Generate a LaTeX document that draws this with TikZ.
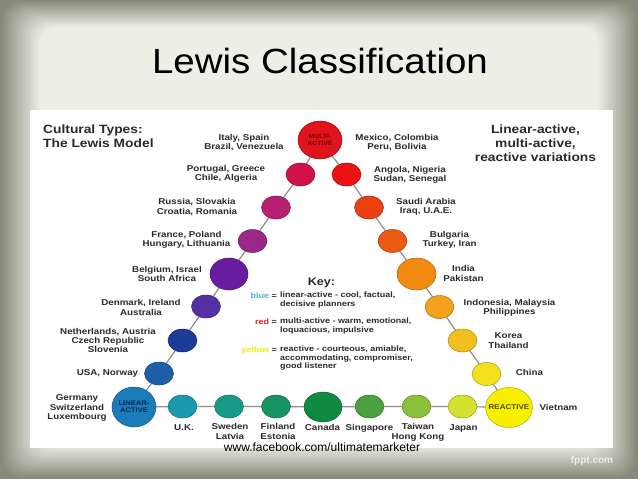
\documentclass[tikz,border=0pt]{standalone}
\usepackage{fontspec}
\setmainfont{Liberation Sans}
\newfontfamily\labfont[FakeStretch=1.15]{Liberation Sans}
\newfontfamily\titlefont[FakeStretch=1.1]{Liberation Sans}
\usetikzlibrary{shapes.geometric}
\pgfdeclarelayer{back}
\pgfdeclarelayer{edges}
\pgfsetlayers{back,edges,main}

\definecolor{bgdark}{HTML}{858979}
\definecolor{bglight}{HTML}{EDEFE4}
\definecolor{labgray}{HTML}{2A2A2A}
\definecolor{linkgray}{HTML}{8E8E8E}
\definecolor{cMulti}{HTML}{E0141C}
\definecolor{cPort}{HTML}{CF1248}
\definecolor{cRuss}{HTML}{B61F72}
\definecolor{cFran}{HTML}{9A2888}
\definecolor{cBelg}{HTML}{6A1CA0}
\definecolor{cDenm}{HTML}{5530A2}
\definecolor{cNeth}{HTML}{1C3C98}
\definecolor{cUSA}{HTML}{1C5EA8}
\definecolor{cLin}{HTML}{1A7CB8}
\definecolor{cUK}{HTML}{1A9AAC}
\definecolor{cSwe}{HTML}{179A8A}
\definecolor{cFin}{HTML}{179262}
\definecolor{cCan}{HTML}{108A40}
\definecolor{cSing}{HTML}{4AA03C}
\definecolor{cTai}{HTML}{8CC03C}
\definecolor{cJap}{HTML}{D2E22E}
\definecolor{cReac}{HTML}{F6F000}
\definecolor{cChi}{HTML}{F2E01E}
\definecolor{cKor}{HTML}{F2C01E}
\definecolor{cIndo}{HTML}{F2A21E}
\definecolor{cIndi}{HTML}{F28A12}
\definecolor{cBulg}{HTML}{EA5A12}
\definecolor{cSaud}{HTML}{EA4012}
\definecolor{cAng}{HTML}{EA1212}
\definecolor{keyblue}{HTML}{4AB0E0}
\definecolor{keyred}{HTML}{E02020}
\definecolor{keyyellow}{HTML}{EEEE00}
\definecolor{tMulti}{HTML}{780000}
\definecolor{tLin}{HTML}{0A285A}
\definecolor{tReac}{HTML}{504600}

\tikzset{
  dot/.style={ellipse, draw=#1!70!black, fill=#1, line width=0.5pt,
    minimum width=29pt, minimum height=23pt, inner sep=0pt},
  med/.style={minimum width=38pt, minimum height=32pt},
  big/.style={minimum width=44pt, minimum height=39pt},
  intext/.style={font=\labfont\bfseries\fontsize{6}{6.8}\selectfont, align=center, inner sep=0pt},
  lab/.style={font=\labfont\bfseries\fontsize{8.5}{9.3}\selectfont, text=labgray,
    align=center, inner sep=0pt},
  head/.style={font=\labfont\bfseries\fontsize{12}{14}\selectfont, text=labgray, inner sep=0pt},
  keytext/.style={font=\labfont\bfseries\fontsize{7.8}{8.8}\selectfont, text=labgray,
    align=left, inner sep=0pt},
  link/.style={draw=linkgray, line width=1.2pt},
}

\begin{document}
\begin{tikzpicture}[x=1pt, y=-1pt]
\useasboundingbox (0,0) rectangle (638,479);

\begin{pgfonlayer}{back}
  \fill[bgdark] (0,0) rectangle (638,479);
  \foreach \i in {1,...,32} {
    \pgfmathtruncatemacro\m{min(100,\i*3.3)}
    \fill[bglight!\m!bgdark, rounded corners=18pt] (\i*1.3,\i*0.9) rectangle (638-\i*1.3,479-\i*1.1);
  }
  \fill[white] (30,110) rectangle (613,448);
\end{pgfonlayer}

% title
\node[font=\titlefont\fontsize{35}{40}\selectfont, anchor=base, inner sep=0pt] (title) at (320,73) {Lewis Classification};

% headings
\node[head, anchor=west, align=left] (ctypes) at (43,136) {Cultural Types:\\The Lewis Model};
\node[head, align=center] (lavar) at (535.5,143) {Linear-active,\\multi-active,\\reactive variations};

% circles
\node[dot=cMulti, big, minimum height=38pt] (multi) at (320,140) {};
\node[dot=cPort] (port) at (300.5,174.5) {};
\node[dot=cRuss] (russ) at (276,207.5) {};
\node[dot=cFran] (fran) at (252.5,241) {};
\node[dot=cBelg, med] (belg) at (229,274) {};
\node[dot=cDenm] (denm) at (206,306.5) {};
\node[dot=cNeth] (neth) at (182.5,340.5) {};
\node[dot=cUSA] (usa) at (159,373.5) {};
\node[dot=cLin, big, minimum height=40pt] (lin) at (134,407) {};
\node[dot=cUK] (uk) at (182.5,406.5) {};
\node[dot=cSwe] (swe) at (229,406.5) {};
\node[dot=cFin] (fin) at (276,406.5) {};
\node[dot=cCan, med, minimum height=30pt] (can) at (323,407) {};
\node[dot=cSing] (sing) at (369.5,406.5) {};
\node[dot=cTai] (tai) at (416.5,406.5) {};
\node[dot=cJap] (jap) at (462.5,406.5) {};
\node[dot=cReac, minimum width=47pt, minimum height=40pt] (reac) at (509,407.5) {};
\node[dot=cChi] (chi) at (486.5,374) {};
\node[dot=cKor] (kor) at (462.5,340.5) {};
\node[dot=cIndo] (indo) at (439.5,307) {};
\node[dot=cIndi, med, minimum width=39pt] (indi) at (416.5,274) {};
\node[dot=cBulg] (bulg) at (392.5,241) {};
\node[dot=cSaud] (saud) at (369,207.5) {};
\node[dot=cAng] (ang) at (346.5,174.5) {};

% circle texts
\node[intext, text=tMulti] (multitxt) at (multi) {MULTI-\\ACTIVE};
\node[intext, text=tLin, font=\labfont\bfseries\fontsize{6.6}{7.4}\selectfont] (lintxt) at (lin) {LINEAR-\\ACTIVE};
\node[intext, text=tReac, font=\labfont\bfseries\fontsize{7}{8}\selectfont] (reactxt) at (reac) {REACTIVE};

% connectors
\begin{pgfonlayer}{edges}
  \draw[link] (lin) -- (usa) -- (neth) -- (denm) -- (belg) -- (fran) -- (russ) -- (port) -- (multi);
  \draw[link] (multi) -- (ang) -- (saud) -- (bulg) -- (indi) -- (indo) -- (kor) -- (chi) -- (reac);
  \draw[link] (lin) -- (uk) -- (swe) -- (fin) -- (can) -- (sing) -- (tai) -- (jap) -- (reac);
\end{pgfonlayer}

% labels left
\node[lab] (lItaly) at (244,142.5) {Italy, Spain\\Brazil, Venezuela};
\node[lab] (lPort) at (226,174) {Portugal, Greece\\Chile, Algeria};
\node[lab] (lRuss) at (197,207) {Russia, Slovakia\\Croatia, Romania};
\node[lab] (lFran) at (186.5,239.5) {France, Poland\\Hungary, Lithuania};
\node[lab] (lBelg) at (167,274) {Belgium, Israel\\South Africa};
\node[lab] (lDenm) at (141,307.5) {Denmark, Ireland\\Australia};
\node[lab] (lNeth) at (108,340.5) {Netherlands, Austria\\Czech Republic\\Slovenia};
\node[lab] (lUSA) at (107.5,373) {USA, Norway};
\node[lab] (lGer) at (77,408) {Germany\\Switzerland\\Luxembourg};
% labels bottom
\node[lab, anchor=base] (lUK) at (184,430) {U.K.};
\node[lab, anchor=north] (lSwe) at (230,423.5) {Sweden\\Latvia};
\node[lab, anchor=north] (lFin) at (278,423.5) {Finland\\Estonia};
\node[lab, anchor=base] (lCan) at (322.5,430) {Canada};
\node[lab, anchor=base] (lSing) at (369.5,430) {Singapore};
\node[lab, anchor=north] (lTai) at (418,423.5) {Taiwan\\Hong Kong};
\node[lab, anchor=base] (lJap) at (463.5,430) {Japan};
% labels right
\node[lab] (lMex) at (397,142.5) {Mexico, Colombia\\Peru, Bolivia};
\node[lab] (lAng) at (410,174.5) {Angola, Nigeria\\Sudan, Senegal};
\node[lab] (lSaud) at (426,206.5) {Saudi Arabia\\Iraq, U.A.E.};
\node[lab] (lBulg) at (449.5,239.5) {Bulgaria\\Turkey, Iran};
\node[lab] (lIndi) at (463.5,273.5) {India\\Pakistan};
\node[lab] (lIndo) at (509.5,307.5) {Indonesia, Malaysia\\Philippines};
\node[lab] (lKor) at (508.5,340.5) {Korea\\Thailand};
\node[lab] (lChi) at (529.5,372) {China};
\node[lab] (lViet) at (558.5,407) {Vietnam};

% key
\node[head, font=\labfont\bfseries\fontsize{11}{13}\selectfont, anchor=base] (key) at (321.5,285) {Key:};
\node[keytext, anchor=base east] (kb) at (277,298) {{\color{keyblue}blue} =};
\node[keytext, anchor=north west] (kbt) at (280,291.5) {linear-active - cool, factual,\\decisive planners};
\node[keytext, anchor=base east] (kr) at (277,324) {{\color{keyred}red} =};
\node[keytext, anchor=north west] (krt) at (280,317.5) {multi-active - warm, emotional,\\loquacious, impulsive};
\node[keytext, anchor=base east] (ky) at (277,352) {{\color{keyyellow}yellow} =};
\node[keytext, anchor=north west] (kyt) at (280,345.5) {reactive - courteous, amiable,\\accommodating, compromiser,\\good listener};

% footer
\node[font=\fontsize{12}{14}\selectfont, anchor=base, inner sep=0pt] (foot) at (322,451) {www.facebook.com/ultimatemarketer};
\node[font=\bfseries\fontsize{10}{12}\selectfont, text=white, opacity=0.75, anchor=base, inner sep=0pt] (fppt) at (592,463) {fppt.com};
\end{tikzpicture}
\end{document}
